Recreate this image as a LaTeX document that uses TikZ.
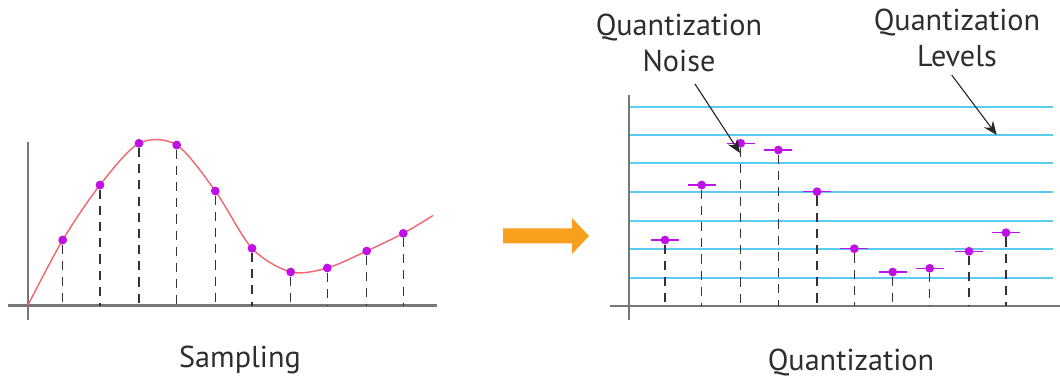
\documentclass[tikz,border=0pt]{standalone}
\usepackage{fontspec}
\setmainfont{PT Sans}
\definecolor{sigred}{HTML}{F2646E}
\definecolor{dotpurple}{HTML}{C010E8}
\definecolor{lvlblue}{HTML}{5CCBF2}
\definecolor{axgray}{HTML}{777777}
\definecolor{txtgray}{HTML}{2E2E2E}
\definecolor{bigorange}{HTML}{F8A01E}
\usetikzlibrary{arrows.meta}
\begin{document}
\begin{tikzpicture}[x=0.025cm, y=-0.025cm,
  every node/.style={font=\fontsize{21.5}{26}\selectfont, text=txtgray},
  dot/.style={circle,fill=dotpurple,inner sep=0pt,minimum size=0.22cm},
  drop/.style={dash pattern=on 6.5pt off 5pt,line width=0.9pt,black!80},
  axis/.style={axgray,line width=1.6pt},
  level/.style={lvlblue,line width=1.3pt},
  tick/.style={dotpurple,line width=1.1pt},
  pointer/.style={-{Stealth[length=0.34cm,width=0.28cm]},line width=0.8pt,black!85}]
\useasboundingbox (0,0) rectangle (1060,383);
\draw[axis] (8,305.5) -- (437,305.5);
\draw[axis] (28,142) -- (28,320);
\draw[sigred,line width=1pt] plot[smooth] coordinates {(28,305) (62.7,240) (100,185) (139,143.3) (176.7,145) (215.3,191) (252,248.3) (290.7,272) (327.3,268) (366.7,251) (403.3,233.3) (433,215.5)};
\foreach \x/\y [count=\i] in {62.7/240,100/185,139/143.3,176.7/145,215.3/191,252/248.3,290.7/272,327.3/268,366.7/251,403.3/233.3}{
  \node[dot] (s\i) at (\x,\y) {};
  \coordinate (sb\i) at (\x,305.5);
  \draw[drop] (s\i) -- (sb\i);
}
\node (samp) at (240,360) {Sampling};
\fill[bigorange] (503,228.3) -- (572,228.3) -- (572,218) -- (589,236) -- (572,254) -- (572,243.3) -- (503,243.3) -- cycle;
\foreach \y in {106.7,135,163.3,192.3,221,249.3,278}
  \draw[level] (629,\y) -- (1053,\y);
\draw[axis] (610,306) -- (1060,306);
\draw[axis] (629,95) -- (629,320);
\foreach \x/\y [count=\i] in {665/240,701.7/185,740.7/143.3,778.3/150,817/191.7,854.3/248.7,892.7/272,929.7/268.3,969/251.3,1006/232.7}{
  \draw[tick] (\x-14,\y) -- (\x+14,\y);
  \node[dot] (q\i) at (\x,\y) {};
  \coordinate (qb\i) at (\x,306);
  \draw[drop] (q\i) -- (qb\i);
}
\node (quant) at (851,362) {Quantization};
\node[align=center] (noise) at (679,43) {Quantization\\Noise};
\node[align=center] (levels) at (957,38) {Quantization\\Levels};
\coordinate (ns) at (695,84);
\coordinate (nt) at (740,153);
\coordinate (ls) at (951.7,75);
\coordinate (lt) at (996.7,135);
\draw[pointer] (ns) -- (nt);
\draw[pointer] (ls) -- (lt);
\end{tikzpicture}
\end{document}
